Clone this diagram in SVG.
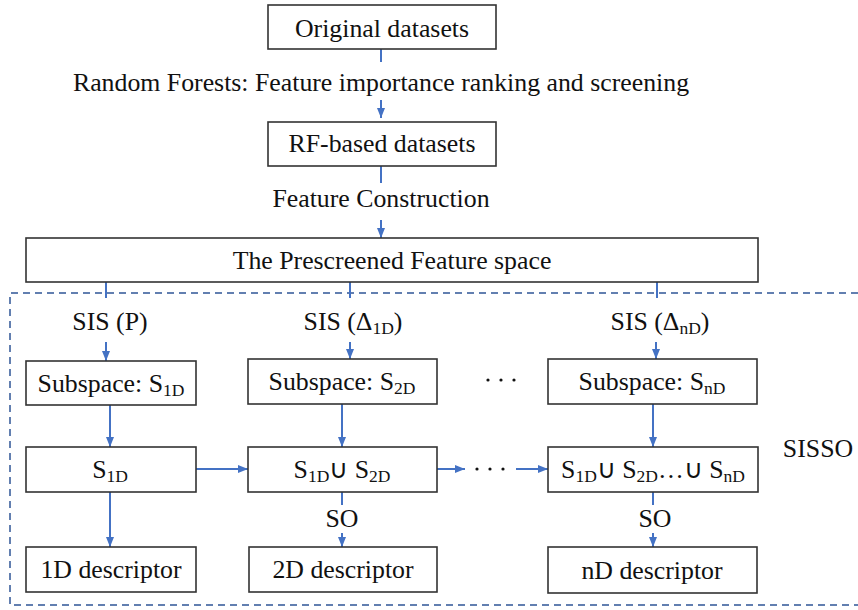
<svg xmlns="http://www.w3.org/2000/svg" width="858" height="610" viewBox="0 0 858 610">
<style>
.box{fill:#fff;stroke:#333;stroke-width:1.6}
text{font-family:"Liberation Serif","Times New Roman",serif;font-size:25.8px;fill:#111;text-anchor:middle}
.sub{font-size:17.5px}
.ln{stroke:#4472C4;stroke-width:2;fill:none}
.dash{stroke:#2F5597;stroke-width:1.5;fill:none;stroke-dasharray:7,5}
</style>
<defs>
<marker id="ah" markerUnits="userSpaceOnUse" markerWidth="10" markerHeight="10" viewBox="0 0 10 10" refX="10" refY="5" orient="auto">
<path d="M0,1 L10,5 L0,9 Z" fill="#4472C4"/>
</marker>
</defs>
<rect x="0" y="0" width="858" height="610" fill="#fff"/>
<path class="dash" d="M858,293 H10 V605 H858"/>
<g id="connectors">
<line class="ln" x1="381" y1="49" x2="381" y2="62"/>
<line class="ln" x1="381" y1="100" x2="381" y2="118" marker-end="url(#ah)"/>
<line class="ln" x1="381" y1="166" x2="381" y2="183"/>
<line class="ln" x1="381" y1="220" x2="381" y2="238" marker-end="url(#ah)"/>
<line class="ln" x1="106" y1="282" x2="106" y2="298"/>
<line class="ln" x1="350" y1="282" x2="350" y2="298"/>
<line class="ln" x1="657" y1="282" x2="657" y2="298"/>
<line class="ln" x1="106" y1="342" x2="106" y2="361" marker-end="url(#ah)"/>
<line class="ln" x1="350" y1="342" x2="350" y2="359" marker-end="url(#ah)"/>
<line class="ln" x1="656" y1="342" x2="656" y2="359" marker-end="url(#ah)"/>
<line class="ln" x1="110" y1="405" x2="110" y2="447" marker-end="url(#ah)"/>
<line class="ln" x1="110" y1="492" x2="110" y2="547" marker-end="url(#ah)"/>
<line class="ln" x1="196" y1="469" x2="248" y2="469" marker-end="url(#ah)"/>
<line class="ln" x1="342" y1="404" x2="342" y2="447" marker-end="url(#ah)"/>
<line class="ln" x1="342" y1="492" x2="342" y2="505"/>
<line class="ln" x1="342" y1="533" x2="342" y2="547" marker-end="url(#ah)"/>
<line class="ln" x1="437" y1="469" x2="465" y2="469" marker-end="url(#ah)"/>
<line class="ln" x1="516" y1="469" x2="548" y2="469" marker-end="url(#ah)"/>
<line class="ln" x1="653" y1="404" x2="653" y2="447" marker-end="url(#ah)"/>
<line class="ln" x1="653" y1="492" x2="653" y2="505"/>
<line class="ln" x1="653" y1="533" x2="653" y2="547" marker-end="url(#ah)"/>
</g>
<g id="labels">
<text x="381" y="91">Random Forests: Feature importance ranking and screening</text>
<text x="381" y="207">Feature Construction</text>
<text x="110" y="330">SIS (P)</text>
<text x="353" y="330">SIS (Δ<tspan class="sub" dy="4">1D</tspan><tspan dy="-4">)</tspan></text>
<text x="660" y="330">SIS (Δ<tspan class="sub" dy="4">nD</tspan><tspan dy="-4">)</tspan></text>
<text x="342" y="527">SO</text>
<text x="655" y="527">SO</text>
<text x="818" y="457">SISSO</text>
<g fill="#111"><circle cx="488" cy="380" r="1.6"/><circle cx="501" cy="380" r="1.6"/><circle cx="514" cy="380" r="1.6"/>
<circle cx="477" cy="469" r="1.6"/><circle cx="490" cy="469" r="1.6"/><circle cx="503" cy="469" r="1.6"/></g>
</g>
<g id="original"><rect class="box" x="268" y="5" width="228" height="44"/><text x="382" y="37">Original datasets</text></g>
<g id="rfbased"><rect class="box" x="268" y="122" width="228" height="44"/><text x="382" y="152">RF-based datasets</text></g>
<g id="prescreened"><rect class="box" x="26" y="238" width="732" height="44"/><text x="392" y="269">The Prescreened Feature space</text></g>
<g id="sub1"><rect class="box" x="26" y="361" width="170" height="44"/><text x="111" y="392">Subspace: S<tspan class="sub" dy="4">1D</tspan></text></g>
<g id="sub2"><rect class="box" x="248" y="359" width="189" height="45"/><text x="342" y="390">Subspace: S<tspan class="sub" dy="4">2D</tspan></text></g>
<g id="subn"><rect class="box" x="548" y="359" width="209" height="45"/><text x="652" y="390">Subspace: S<tspan class="sub" dy="4">nD</tspan></text></g>
<g id="s1"><rect class="box" x="26" y="447" width="170" height="45"/><text x="110" y="478">S<tspan class="sub" dy="4">1D</tspan></text></g>
<g id="s12"><rect class="box" x="248" y="447" width="189" height="45"/><text x="342" y="478">S<tspan class="sub" dy="4">1D</tspan><tspan dy="-4">∪ S</tspan><tspan class="sub" dy="4">2D</tspan></text></g>
<g id="s1n"><rect class="box" x="548" y="447" width="210" height="45"/><text x="653" y="478">S<tspan class="sub" dy="4">1D</tspan><tspan dy="-4">∪ S</tspan><tspan class="sub" dy="4">2D</tspan><tspan dy="-4">…∪ S</tspan><tspan class="sub" dy="4">nD</tspan></text></g>
<g id="d1"><rect class="box" x="26" y="547" width="170" height="45"/><text x="111" y="578">1D descriptor</text></g>
<g id="d2"><rect class="box" x="249" y="547" width="188" height="45"/><text x="343" y="578">2D descriptor</text></g>
<g id="dn"><rect class="box" x="548" y="547" width="209" height="46"/><text x="652" y="579">nD descriptor</text></g>
</svg>
